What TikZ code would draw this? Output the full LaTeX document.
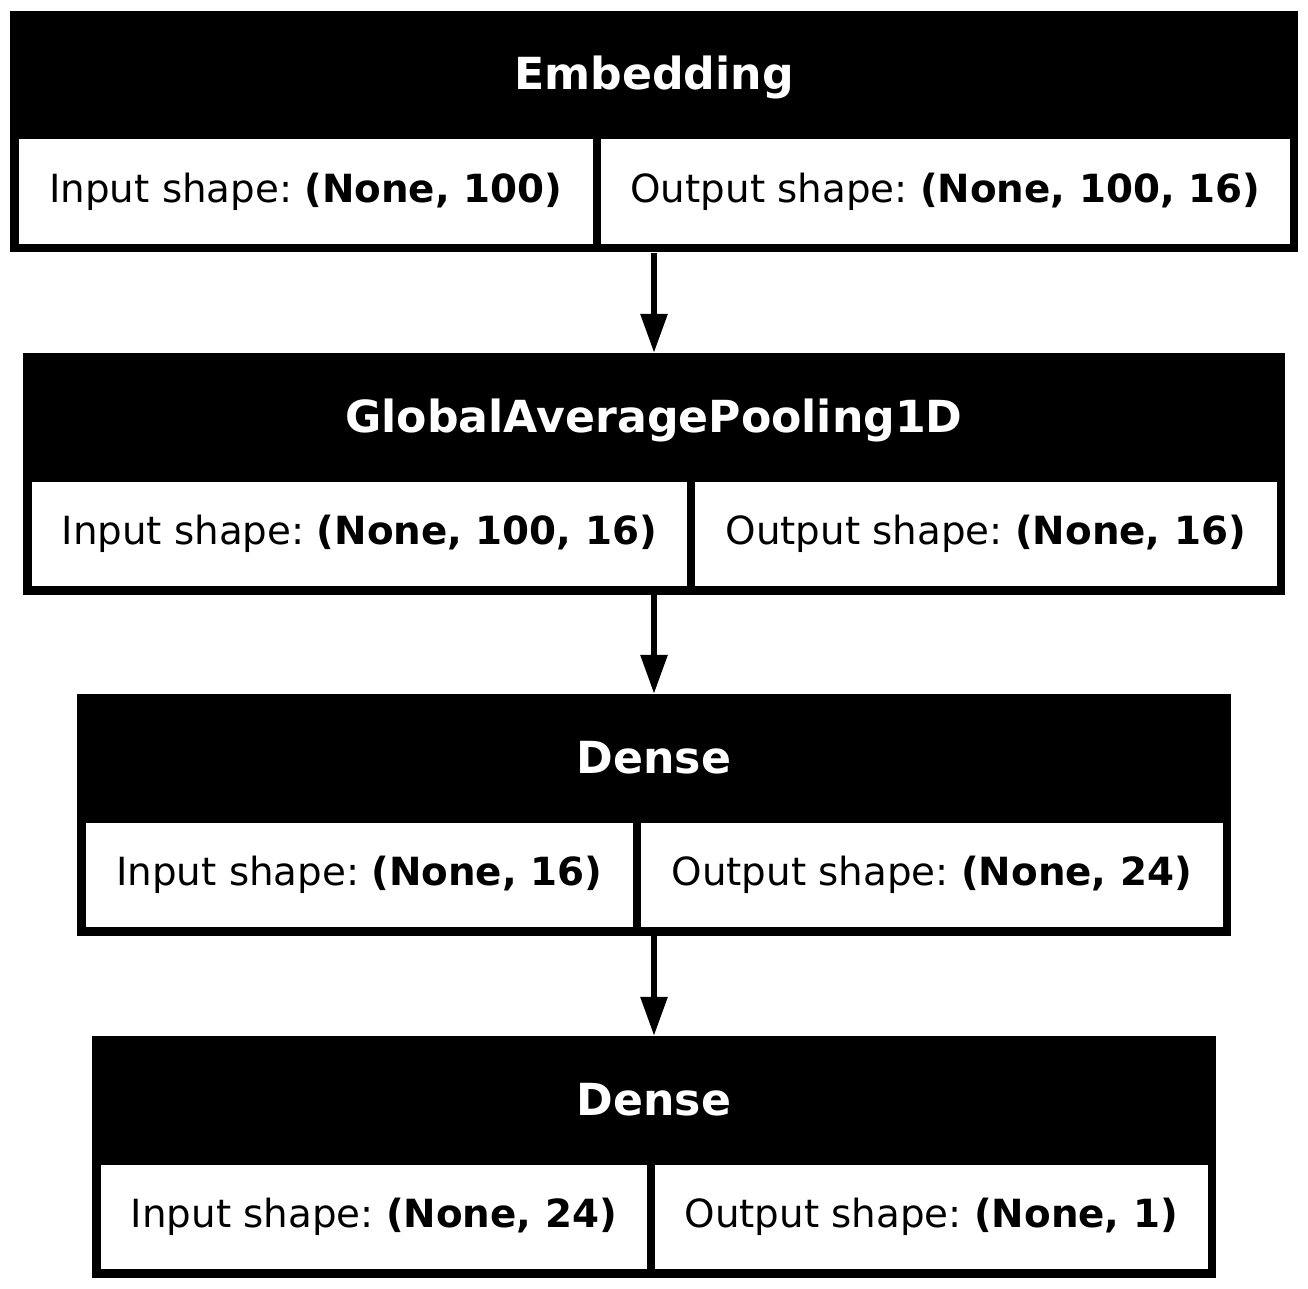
\documentclass[tikz,border=0pt]{standalone}
\usepackage{fontspec}
\setmainfont{DejaVu Sans}
\usetikzlibrary{arrows.meta}
\tikzset{
  layerbox/.style={rectangle, fill=black, inner sep=0pt, minimum height=241.5pt},
  shapecell/.style={rectangle, fill=white, inner sep=0pt, minimum height=104.5pt,
    font=\fontsize{38.8}{46}\selectfont\frenchspacing},
  layertitle/.style={anchor=base, inner sep=0pt, text=white,
    font=\fontsize{44.2}{52}\selectfont\bfseries},
  flow/.style={line width=6pt, -{Triangle[length=39pt,width=26pt]}}
}

\begin{document}
\begin{tikzpicture}[x=1pt, y=-1pt]
			%%%%% START %%%%%
			\fill[white] (0, 0) rectangle (1308, 1289);
			
			\node[layerbox, minimum width=1288pt] (emb) at (654, 131.75) {};
			\node[layertitle] (emb-title) at (654, 90) {Embedding};
			\node[shapecell, minimum width=574.5pt] (emb-in) at (305.75, 191.75) {Input shape: \textbf{(None, 100)}};
			\node[shapecell, minimum width=688.5pt] (emb-out) at (945.25, 191.75) {Output shape: \textbf{(None, 100, 16)}};
			
			\node[layerbox, minimum width=1262pt] (pool) at (654, 473.75) {};
			\node[layertitle] (pool-title) at (654, 432) {GlobalAveragePooling1D};
			\node[shapecell, minimum width=655.5pt] (pool-in) at (359.25, 533.75) {Input shape: \textbf{(None, 100, 16)}};
			\node[shapecell, minimum width=581.5pt] (pool-out) at (985.75, 533.75) {Output shape: \textbf{(None, 16)}};
			
			\node[layerbox, minimum width=1154pt] (dense1) at (654, 814.75) {};
			\node[layertitle] (dense1-title) at (654, 773) {Dense};
			\node[shapecell, minimum width=547.5pt] (dense1-in) at (359.25, 874.75) {Input shape: \textbf{(None, 16)}};
			\node[shapecell, minimum width=581.5pt] (dense1-out) at (931.75, 874.75) {Output shape: \textbf{(None, 24)}};
			
			\node[layerbox, minimum width=1124pt] (dense2) at (654, 1156.75) {};
			\node[layertitle] (dense2-title) at (654, 1115) {Dense};
			\node[shapecell, minimum width=546.5pt] (dense2-in) at (373.75, 1216.75) {Input shape: \textbf{(None, 24)}};
			\node[shapecell, minimum width=552.5pt] (dense2-out) at (931.25, 1216.75) {Output shape: \textbf{(None, 1)}};
			
			\draw[flow] (emb.south) -- (pool.north);
			\draw[flow] (pool.south) -- (dense1.north);
			\draw[flow] (dense1.south) -- (dense2.north);
			%%%%% END %%%%%
\end{tikzpicture}
\end{document}
